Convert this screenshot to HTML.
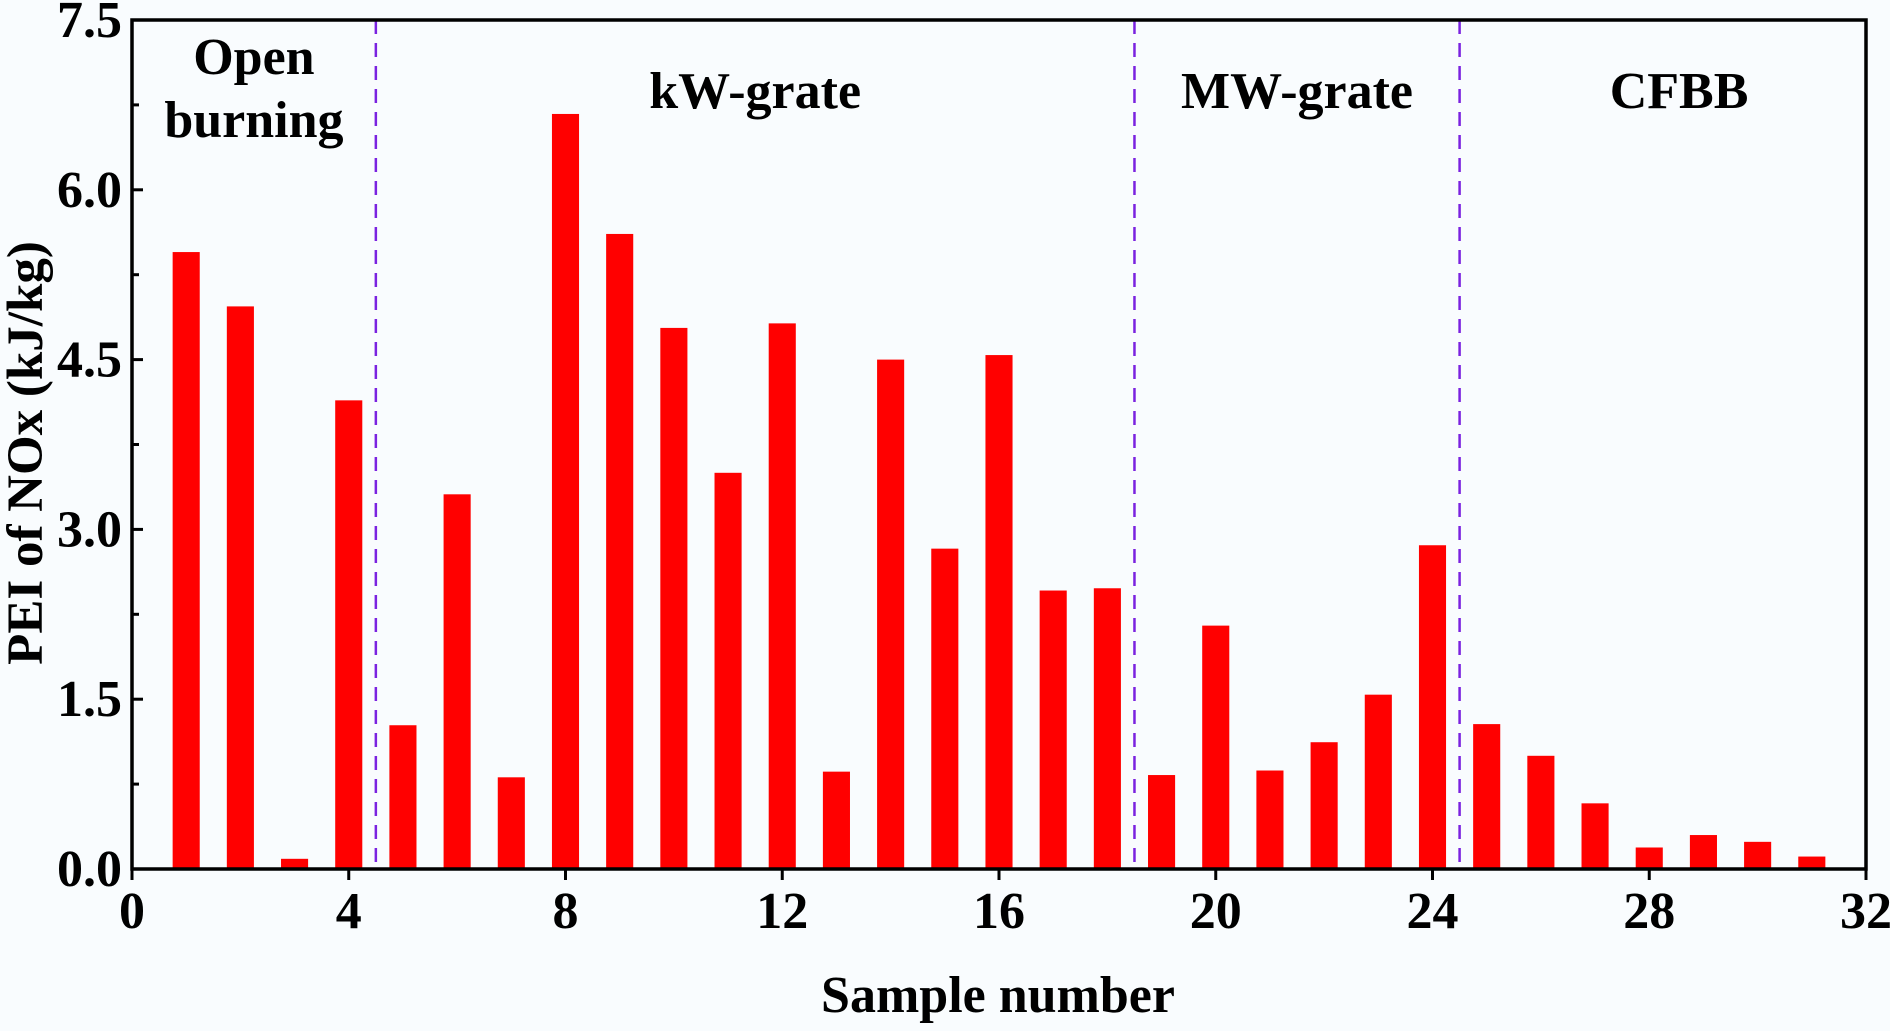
<!DOCTYPE html>
<html><head><meta charset="utf-8"><style>
html,body{margin:0;padding:0;background:#f9fcfe;}
svg{display:block;font-family:"Liberation Serif",serif;font-weight:bold;}
</style></head><body>
<svg id="chart" width="1890" height="1031" viewBox="0 0 1890 1031" xmlns="http://www.w3.org/2000/svg">
<rect width="1890" height="1031" fill="#f9fcfe"/>
<g id="bars"></g>
<g id="dividers"></g>
<g id="axes"></g>
<g id="labels"></g>
</svg>
<script>
const samples=[1,2,3,4,5,6,7,8,9,10,11,12,13,14,15,16,17,18,19,20,21,22,23,24,25,26,27,28,29,30,31];
const peiValues=[5.45,4.97,0.09,4.14,1.27,3.31,0.81,6.67,5.61,4.78,3.50,4.82,0.86,4.50,2.83,4.54,2.46,2.48,0.83,2.15,0.87,1.12,1.54,2.86,1.28,1.00,0.58,0.19,0.30,0.24,0.11];
const dividerPositions=[4.5,18.5,24.5];
const groupNames=[["Open","burning"],["kW-grate"],["MW-grate"],["CFBB"]];
const groupCenters=[2.25,11.5,21.5,28.55];
const xTicks=[0,4,8,12,16,20,24,28,32];
const yTicks=[0,1.5,3.0,4.5,6.0,7.5];
const yTickLabels=["0.0","1.5","3.0","4.5","6.0","7.5"];

const NS="http://www.w3.org/2000/svg";
const L=132,R=1866,T=20,B=869;
const xs=v=>L+(v-0)/(32-0)*(R-L);
const ys=v=>B-(v-0)/(7.5-0)*(B-T);
function mk(tag,attrs,parent,text){const e=document.createElementNS(NS,tag);for(const k in attrs)e.setAttribute(k,attrs[k]);if(text!==undefined)e.textContent=text;parent.appendChild(e);return e;}
const gb=document.getElementById('bars'),gd=document.getElementById('dividers'),ga=document.getElementById('axes'),gl=document.getElementById('labels');
const bw=xs(0.5)-xs(0);
samples.forEach((s,i)=>{
  const r=mk('rect',{x:xs(s)-bw/2,y:ys(peiValues[i]),width:bw,height:ys(0)-ys(peiValues[i]),fill:'#ff0000'},gb);
  
  
});
dividerPositions.forEach((d,i)=>{
  const l=mk('line',{x1:xs(d),x2:xs(d),y1:T,y2:B,stroke:'#7a22e0','stroke-width':2.5,'stroke-dasharray':'14,9'},gd);
  
  
});
const fr=mk('rect',{x:L,y:T,width:R-L,height:B-T,fill:'none',stroke:'#000','stroke-width':3.5},ga);


xTicks.forEach(t=>{
  const tk=mk('line',{x1:xs(t),x2:xs(t),y1:B,y2:B+11,stroke:'#000','stroke-width':3},ga);
  
  
  const tx=mk('text',{x:xs(t),y:928,'font-size':52,'text-anchor':'middle',fill:'#000'},ga,String(t));
  
  
});
yTicks.forEach((t,i)=>{
  const tk=mk('line',{x1:L,x2:L+11,y1:ys(t),y2:ys(t),stroke:'#000','stroke-width':3},ga);
  
  
  if(i<yTicks.length-1){
    const m=mk('line',{x1:L,x2:L+7,y1:ys(t+0.75),y2:ys(t+0.75),stroke:'#000','stroke-width':3},ga);
    
    
  }
  const tx=mk('text',{x:122,y:ys(t)+17,'font-size':52,'text-anchor':'end',fill:'#000'},ga,yTickLabels[i]);
  
  
});
const xt=mk('text',{x:998,y:1012,'font-size':52,'text-anchor':'middle',fill:'#000'},gl,'Sample number');


const yt=mk('text',{x:0,y:0,'font-size':51,'text-anchor':'middle',fill:'#000',transform:'translate(42,453) rotate(-90)'},gl,'PEI of NOx (kJ/kg)');


groupNames.forEach((lines,i)=>{
  lines.forEach((ln,j)=>{
    const y=lines.length>1?74+j*63:108;
    const t=mk('text',{x:xs(groupCenters[i]),y:y,'font-size':52,'text-anchor':'middle',fill:'#000'},gl,ln);
    
    
  });
});
</script>
</body></html>
